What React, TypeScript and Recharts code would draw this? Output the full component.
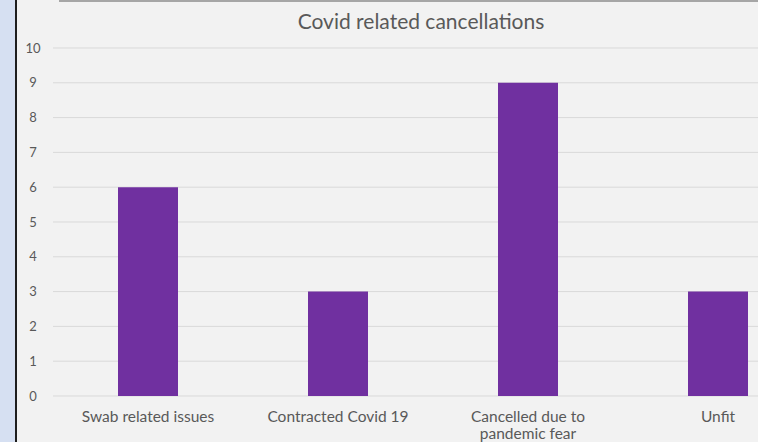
import React from "react";
import { BarChart, Bar, XAxis, YAxis, CartesianGrid, Text } from "recharts";

const categories = ["Swab related issues", "Contracted Covid 19", "Cancelled due to pandemic fear", "Unfit"];
const counts = [6, 3, 9, 3];
const yTicks = [0, 1, 2, 3, 4, 5, 6, 7, 8, 9, 10];
const title = "Covid related cancellations";

const data = categories.map((c, i) => ({ name: c, value: counts[i] }));

const FONT = "Lato, 'Open Sans', sans-serif";
const TEXT = "#595959";

const YTick = (props: any) => {
  const { y, payload } = props;
  return (
    <text x={33} y={y} dy={4.5} textAnchor="middle" fill={TEXT} fontSize={13} fontFamily={FONT}>
      {payload.value}
    </text>
  );
};

const XTick = (props: any) => {
  const { x, y, payload } = props;
  return (
    <Text x={x} y={y + 7} width={170} textAnchor="middle" verticalAnchor="start" fill={TEXT} fontSize={15.5} fontFamily={FONT} lineHeight={17}>
      {payload.value}
    </Text>
  );
};

export default function App() {
  return (
    <div style={{ position: "fixed", left: 0, top: 0, width: 758, height: 442, overflow: "hidden", background: "#f2f2f2" }}>
      <div style={{ position: "absolute", left: 0, top: 0, width: 15, height: 442, background: "#d6e0f2" }} />
      <div style={{ position: "absolute", left: 15, top: 0, width: 2, height: 442, background: "#1e1e1e" }} />
      <div style={{ position: "absolute", left: 59, top: 0, width: 699, height: 2, background: "#a6a6a6" }} />
      <div style={{ position: "absolute", left: 0, top: 8, width: 842, textAlign: "center", fontFamily: FONT, fontSize: 21, color: TEXT }}>
        {title}
      </div>
      <div style={{ position: "absolute", left: 0, top: 0 }}>
        <BarChart width={830} height={442} data={data} margin={{ top: 48, right: 17, bottom: 0, left: 0 }}>
          <CartesianGrid vertical={false} stroke="#d9d9d9" strokeWidth={1} />
          <YAxis domain={[0, 10]} ticks={yTicks} width={53} axisLine={false} tickLine={false} tick={<YTick />} interval={0} />
          <XAxis dataKey="name" height={46} axisLine={false} tickLine={false} tick={<XTick />} interval={0} />
          <Bar dataKey="value" fill="#7030a0" barSize={60} isAnimationActive={false} />
        </BarChart>
      </div>
    </div>
  );
}
